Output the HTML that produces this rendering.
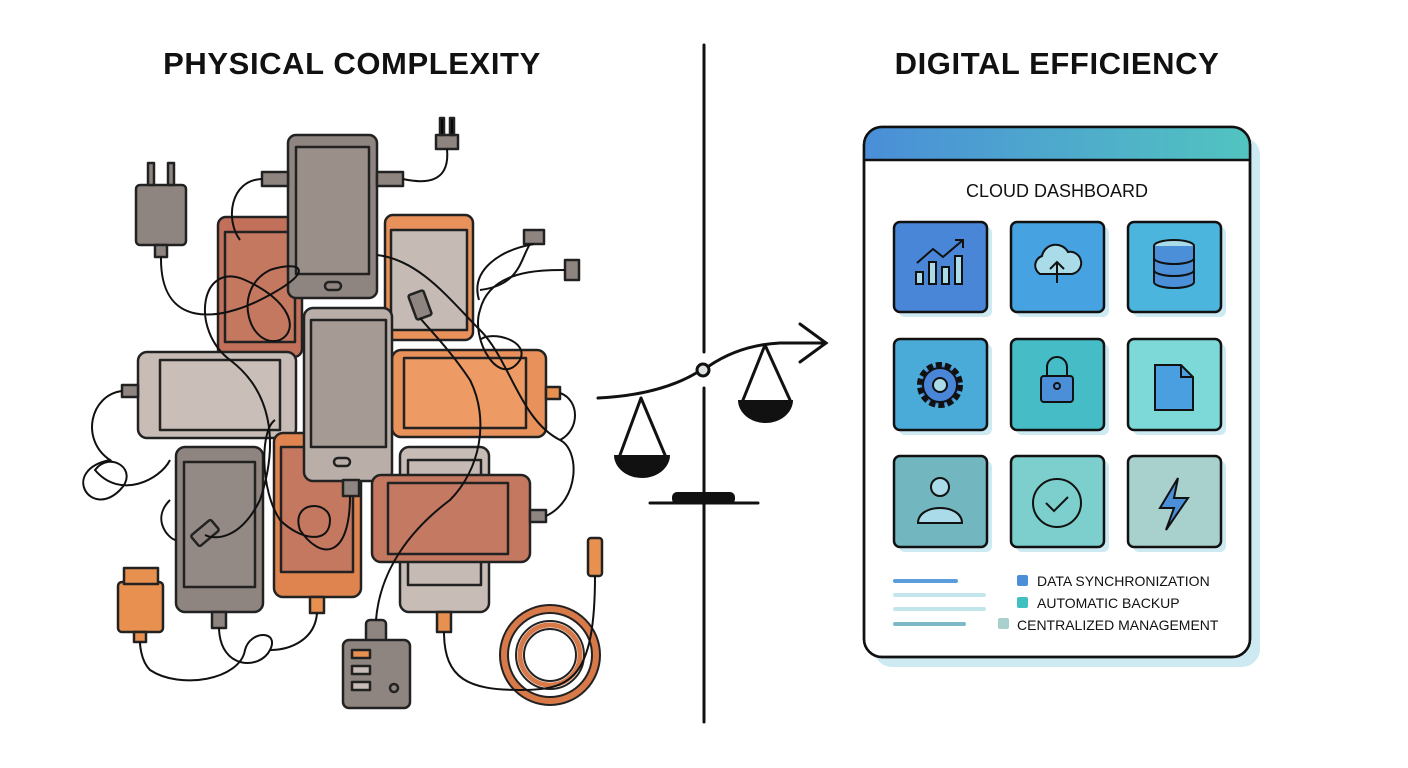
<!DOCTYPE html>
<html><head><meta charset="utf-8"><style>
html,body{margin:0;padding:0;background:#fff;}
svg{display:block;}
text{font-family:"Liberation Sans",sans-serif;}
</style></head><body>
<svg width="1408" height="768" viewBox="0 0 1408 768" xmlns="http://www.w3.org/2000/svg">
<rect width="1408" height="768" fill="#fff"/>
<text x="352" y="74" font-size="31" text-anchor="middle" fill="#111" font-weight="bold" letter-spacing="0.6">PHYSICAL COMPLEXITY</text>
<text x="1057" y="74" font-size="31" text-anchor="middle" fill="#111" font-weight="bold" letter-spacing="0.6">DIGITAL EFFICIENCY</text>

<g stroke="#111" stroke-width="3" fill="none" stroke-linecap="round">
<line x1="704" y1="45" x2="704" y2="352"/>
<line x1="704" y1="388" x2="704" y2="722"/>
<path d="M598 398 Q660 395 698 372 M709 366 Q740 345 780 343 L826 343"/>
<path d="M800 324 L826 343 L800 362"/>
<path d="M641 398 L620 455 M641 398 L665 455"/>
<path d="M765 345 L743 400 M765 345 L790 400"/>
<line x1="650" y1="503" x2="758" y2="503"/>
</g>
<circle cx="703" cy="370" r="6" fill="#dde3df" stroke="#111" stroke-width="3"/>
<path d="M614 455 L670 455 A28 23 0 0 1 614 455 Z" fill="#111"/>
<path d="M738 400 L793 400 A27.5 23 0 0 1 738 400 Z" fill="#111"/>
<rect x="672" y="492" width="63" height="12" rx="5" fill="#111"/>

<g stroke="#222" stroke-width="2.5" stroke-linejoin="round">
<rect x="136" y="185" width="50" height="60" rx="4" fill="#8f8580"/>
<rect x="148" y="163" width="6" height="22" fill="#8f8580"/><rect x="168" y="163" width="6" height="22" fill="#8f8580"/>
<rect x="155" y="245" width="12" height="12" fill="#8f8580"/>
<rect x="118" y="582" width="45" height="50" rx="4" fill="#e8904f"/>
<rect x="124" y="568" width="34" height="16" fill="#e8904f"/>
<rect x="134" y="632" width="12" height="10" fill="#e8904f"/>
<rect x="218" y="217" width="84" height="140" rx="8" fill="#c2705a"/>
<rect x="225" y="232" width="70" height="110" fill="#c47860"/>
<rect x="385" y="215" width="88" height="125" rx="8" fill="#e8915a"/>
<rect x="391" y="230" width="76" height="100" fill="#c5bbb4"/>
<rect x="288" y="135" width="89" height="163" rx="8" fill="#8f8580"/>
<rect x="296" y="147" width="73" height="127" fill="#9a8f89"/>
<rect x="325" y="282" width="16" height="8" rx="4" fill="none"/>
<rect x="138" y="352" width="158" height="86" rx="9" fill="#c7bdb6"/>
<rect x="160" y="360" width="120" height="70" fill="#c9bfb8"/>
<rect x="392" y="350" width="154" height="87" rx="9" fill="#e8915a"/>
<rect x="404" y="358" width="122" height="70" fill="#ed9a64"/>
<rect x="176" y="447" width="87" height="165" rx="9" fill="#8f8580"/>
<rect x="184" y="462" width="71" height="125" fill="#948a85"/>
<rect x="274" y="433" width="87" height="164" rx="9" fill="#e0844f"/>
<rect x="281" y="447" width="72" height="125" fill="#c47860"/>
<rect x="400" y="447" width="89" height="165" rx="9" fill="#c7bdb6"/>
<rect x="408" y="460" width="73" height="125" fill="#c5bbb4"/>
<rect x="304" y="308" width="88" height="173" rx="9" fill="#b9aea8"/>
<rect x="311" y="320" width="75" height="127" fill="#a59a94"/>
<rect x="334" y="458" width="16" height="8" rx="4" fill="none"/>
<rect x="372" y="475" width="158" height="87" rx="9" fill="#c47860"/>
<rect x="388" y="483" width="120" height="71" fill="#c47a62"/>
<rect x="343" y="480" width="16" height="16" fill="#8f8580"/>
<rect x="212" y="612" width="14" height="16" fill="#8f8580"/>
<rect x="310" y="597" width="14" height="16" fill="#e8904f"/>
<rect x="437" y="612" width="14" height="20" fill="#e8904f"/>
<rect x="122" y="385" width="16" height="12" fill="#8f8580"/>
<rect x="546" y="387" width="14" height="12" fill="#e8904f"/>
<rect x="530" y="510" width="16" height="12" fill="#8f8580"/>
<rect x="262" y="172" width="26" height="14" fill="#8f8580"/>
<rect x="377" y="172" width="26" height="14" fill="#8f8580"/>
<rect x="366" y="620" width="20" height="22" rx="4" fill="#8f8580"/>
<rect x="343" y="640" width="67" height="68" rx="6" fill="#8f8580"/>
<rect x="352" y="650" width="18" height="8" fill="#e8904f"/>
<rect x="352" y="666" width="18" height="8" fill="#c7bdb6"/>
<rect x="352" y="682" width="18" height="8" fill="#c7bdb6"/>
<circle cx="394" cy="688" r="4" fill="none"/>
<rect x="436" y="135" width="22" height="14" fill="#8f8580"/><rect x="440" y="118" width="4" height="17"/><rect x="450" y="118" width="4" height="17"/>
<rect x="524" y="230" width="20" height="14" fill="#8f8580"/>
<rect x="565" y="260" width="14" height="20" fill="#8f8580"/>
<rect x="588" y="538" width="14" height="38" rx="3" fill="#e8904f"/>
<rect x="412" y="292" width="16" height="26" rx="2" fill="#8f8580" transform="rotate(-20 420 305)"/>
<rect x="198" y="520" width="14" height="26" rx="2" fill="#8f8580" transform="rotate(50 205 533)"/>
</g>
<g fill="none" stroke="#222" stroke-width="2">
<circle cx="550" cy="655" r="46" stroke="#d8794a" stroke-width="9"/>
<circle cx="550" cy="655" r="50"/><circle cx="550" cy="655" r="42"/><circle cx="550" cy="655" r="34"/><circle cx="550" cy="655" r="26"/>
<circle cx="550" cy="655" r="30" stroke="#d8794a" stroke-width="5"/>
</g>
<g fill="none" stroke="#111" stroke-width="2">
<path d="M161 257 C160 330 220 320 260 300 C320 270 300 260 270 270 C230 290 250 350 280 340 C300 330 290 300 245 280 C200 260 190 330 230 360"/>
<path d="M262 179 C230 180 225 220 240 240"/>
<path d="M403 179 C430 185 450 180 447 149"/>
<path d="M122 391 C90 395 80 440 110 460 C60 470 90 520 120 490 C140 470 110 450 95 470 C120 500 160 480 170 460 M170 500 C150 520 170 540 176 540"/>
<path d="M230 360 C270 390 280 440 260 500 C240 540 215 540 205 535"/>
<path d="M350 496 C350 560 320 560 300 530 C290 500 330 500 330 520 C330 545 300 540 280 520 C260 490 260 430 275 420"/>
<path d="M219 628 C220 670 260 670 270 650 C280 630 250 630 245 650 C240 680 180 690 150 670 C140 660 140 642 140 642"/>
<path d="M317 613 C315 640 290 650 270 650"/>
<path d="M376 620 C380 570 410 530 450 500 C480 470 490 420 470 380 C450 350 430 330 420 318"/>
<path d="M377 255 C420 260 450 300 480 330 C510 360 520 420 560 440 C580 450 580 500 546 516"/>
<path d="M560 393 C580 400 580 430 560 440"/>
<path d="M479 300 C470 270 500 250 534 244 M565 270 C540 270 490 270 480 310 C470 340 500 390 520 360 C530 340 490 330 480 340"/>
<path d="M444 632 C444 680 470 690 520 690 C570 690 595 680 595 576"/>
<path d="M530 244 C520 260 520 285 480 290"/>
</g>

<rect x="874" y="137" width="386" height="530" rx="18" fill="#cdeaf3"/>
<rect x="864" y="127" width="386" height="530" rx="18" fill="#fff" stroke="#111" stroke-width="2.5"/>
<defs><linearGradient id="hg" x1="0" x2="1"><stop offset="0" stop-color="#4a8ed8"/><stop offset="1" stop-color="#52c4c0"/></linearGradient>
<clipPath id="cp"><rect x="864" y="127" width="386" height="530" rx="18"/></clipPath></defs>
<rect x="864" y="127" width="386" height="33" fill="url(#hg)" clip-path="url(#cp)"/>
<line x1="864" y1="160" x2="1250" y2="160" stroke="#111" stroke-width="2.5"/>
<rect x="864" y="127" width="386" height="530" rx="18" fill="none" stroke="#111" stroke-width="2.5"/>
<text x="1057" y="197" font-size="18" text-anchor="middle" fill="#111">CLOUD DASHBOARD</text>
<g stroke="#111" stroke-width="2.5">
<g fill="#cdeaf3" stroke="none">
<rect x="899" y="227" width="93" height="90" rx="6"/><rect x="1016" y="227" width="93" height="90" rx="6"/><rect x="1133" y="227" width="93" height="90" rx="6"/>
<rect x="899" y="344" width="93" height="91" rx="6"/><rect x="1016" y="344" width="93" height="91" rx="6"/><rect x="1133" y="344" width="93" height="91" rx="6"/>
<rect x="899" y="461" width="93" height="91" rx="6"/><rect x="1016" y="461" width="93" height="91" rx="6"/><rect x="1133" y="461" width="93" height="91" rx="6"/>
</g>
<rect x="894" y="222" width="93" height="90" rx="6" fill="#4a86d8"/>
<rect x="1011" y="222" width="93" height="90" rx="6" fill="#46a2e0"/>
<rect x="1128" y="222" width="93" height="90" rx="6" fill="#4bb5de"/>
<rect x="894" y="339" width="93" height="91" rx="6" fill="#4aaad8"/>
<rect x="1011" y="339" width="93" height="91" rx="6" fill="#45bcc6"/>
<rect x="1128" y="339" width="93" height="91" rx="6" fill="#7dd9d8"/>
<rect x="894" y="456" width="93" height="91" rx="6" fill="#72b6c0"/>
<rect x="1011" y="456" width="93" height="91" rx="6" fill="#7ccfcc"/>
<rect x="1128" y="456" width="93" height="91" rx="6" fill="#a8d0cc"/>
</g>
<g stroke="#111" stroke-width="2" fill="#a9dbe8">
<rect x="916" y="272" width="7" height="12"/><rect x="929" y="262" width="7" height="22"/><rect x="942" y="267" width="7" height="17"/><rect x="955" y="256" width="7" height="28"/>
<path d="M917 263 L933 249 L943 257 L963 240 M955 240 L963 240 L963 248" fill="none"/>
<path d="M1040 274 A10 10 0 0 1 1042 256 A14 14 0 0 1 1068 252 A11 11 0 0 1 1072 274 Z"/>
<path d="M1057 283 L1057 262 M1050 269 L1057 262 L1064 269" fill="none"/>
<ellipse cx="1174" cy="246" rx="20" ry="6"/>
<path d="M1154 246 L1154 282 A20 6 0 0 0 1194 282 L1194 246" fill="#4a8fd8"/>
<path d="M1154 258 A20 6 0 0 0 1194 258 M1154 270 A20 6 0 0 0 1194 270" fill="none"/>
<circle cx="940" cy="385" r="20" fill="#4a86d8" stroke-dasharray="6 3" stroke-width="6"/>
<circle cx="940" cy="385" r="17" fill="#4a86d8"/>
<circle cx="940" cy="385" r="7" fill="#a9dbe8"/>
<path d="M1047 376 L1047 367 A10 10 0 0 1 1067 367 L1067 376" fill="none"/>
<rect x="1041" y="376" width="32" height="26" rx="3" fill="#4a8fd8"/>
<circle cx="1057" cy="386" r="3" fill="none"/>
<path d="M1155 365 L1181 365 L1193 377 L1193 410 L1155 410 Z" fill="#4a9fe0"/>
<path d="M1181 365 L1181 377 L1193 377" fill="none"/>
<circle cx="940" cy="487" r="9"/>
<path d="M918 523 C918 503 962 503 962 523 Z"/>
<circle cx="1057" cy="503" r="24" fill="none"/>
<path d="M1046 503 L1054 511 L1068 497" fill="none"/>
<path d="M1178 478 L1160 508 L1174 508 L1166 530 L1188 498 L1174 498 Z" fill="#4a8fd8"/>
</g>
<g stroke-linecap="round" stroke-width="4">
<line x1="895" y1="581" x2="956" y2="581" stroke="#5b9ddb"/>
<line x1="895" y1="595" x2="984" y2="595" stroke="#c3e6ec"/>
<line x1="895" y1="609" x2="984" y2="609" stroke="#c3e6ec"/>
<line x1="895" y1="624" x2="964" y2="624" stroke="#7bb9c6"/>
</g>
<rect x="1017" y="575" width="11" height="11" rx="2" fill="#4a8fd8"/>
<rect x="1017" y="597" width="11" height="11" rx="2" fill="#40c0c0"/>
<rect x="998" y="618" width="11" height="11" rx="2" fill="#a9d0cc"/>
<g font-size="14" fill="#111">
<text x="1037" y="586">DATA SYNCHRONIZATION</text>
<text x="1037" y="608">AUTOMATIC BACKUP</text>
<text x="1017" y="630">CENTRALIZED MANAGEMENT</text>
</g>
</svg>
</body></html>
